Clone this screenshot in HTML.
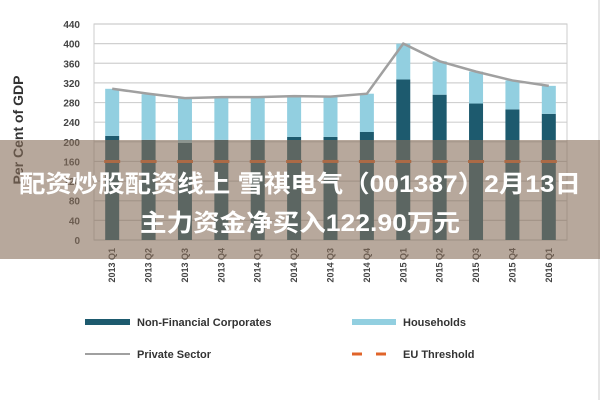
<!DOCTYPE html>
<html><head><meta charset="utf-8"><style>
body{margin:0;background:#fff;}
svg{display:block;font-family:"Liberation Sans","Noto Sans CJK SC",sans-serif;}
</style></head><body>
<svg width="600" height="400" viewBox="0 0 600 400">
<g id="grid"></g>
<g id="bars"></g>
<g id="line"></g>
<g id="thr"></g>
<g id="xl"></g>
<text transform="translate(23,130) rotate(-90)" text-anchor="middle" font-size="14" font-weight="bold" fill="#333">Per Cent of GDP</text>
<line x1="599" y1="0" x2="599" y2="400" stroke="#ccc"/>
<g font-size="11" font-weight="bold" fill="#333">
 <g><rect x="85" y="319" width="45" height="6" fill="#1d5a6e"/><text x="137" y="326">Non-Financial Corporates</text></g>
 <g><rect x="352" y="319" width="44" height="6" fill="#92cfe0"/><text x="403" y="326">Households</text></g>
 <g><line x1="85" y1="354" x2="130" y2="354" stroke="#a0a0a0" stroke-width="2"/><text x="137" y="358">Private Sector</text></g>
 <g><line x1="352" y1="354" x2="396" y2="354" stroke="#e0642a" stroke-width="3" stroke-dasharray="10,14"/><text x="403" y="358">EU Threshold</text></g>
</g>
<rect x="0" y="140" width="600" height="119" fill="rgba(135,110,90,0.6)"/>
<text x="300" y="192" text-anchor="middle" font-size="24" font-weight="bold" fill="#fff" textLength="562" lengthAdjust="spacingAndGlyphs">配资炒股配资线上 雪祺电气（001387）2月13日</text>
<text x="300" y="231" text-anchor="middle" font-size="24" font-weight="bold" fill="#fff" textLength="320" lengthAdjust="spacingAndGlyphs">主力资金净买入122.90万元</text>
</svg>
<script>
const categories=["2013 Q1","2013 Q2","2013 Q3","2013 Q4","2014 Q1","2014 Q2","2014 Q3","2014 Q4","2015 Q1","2015 Q2","2015 Q3","2015 Q4","2016 Q1"];
const nfc=[212,204,198,204,204,210,210,220,327,296,278,266,257];
const households=[96,93,91,88,88,84,82,78,73,68,65,59,57];
const privateSector=[308,298,289,291,291,293,292,298,400,364,343,325,314];
const euThreshold=160;
const yTicks=[0,40,80,120,160,200,240,280,320,360,400,440];
const NS="http://www.w3.org/2000/svg";
const L=94,R=567,T=24,B=240,yMax=440;
const y=v=>B-(v/yMax)*(B-T);
const step=(R-L)/categories.length;
const x=i=>L+step*(i+0.5);
function mk(t,a,p){const e=document.createElementNS(NS,t);for(const k in a)e.setAttribute(k,a[k]);p.appendChild(e);return e;}
const g=document.getElementById('grid');
yTicks.forEach(v=>{
 const l=mk('line',{x1:L,x2:R,y1:y(v),y2:y(v),stroke:'#d0d0d0','stroke-width':1.2},g);
 
 
 const t=mk('text',{x:L-14,y:y(v)+4,'text-anchor':'end','font-size':10,'font-weight':'bold',fill:'#444'},g);
 
 
 t.textContent=v;
});
mk('rect',{x:L,y:T,width:R-L,height:B-T,fill:'none',stroke:'#ccc'},g);
const bg=document.getElementById('bars'),lg=document.getElementById('line'),tg=document.getElementById('thr'),xg=document.getElementById('xl');
const bw=14;
categories.forEach((c,i)=>{
 const a=mk('rect',{x:x(i)-bw/2,y:y(nfc[i]),width:bw,height:B-y(nfc[i]),fill:'#1d5a6e'},bg);
 
 
 const top=nfc[i]+households[i];
 const b=mk('rect',{x:x(i)-bw/2,y:y(top),width:bw,height:y(nfc[i])-y(top),fill:'#92cfe0'},bg);
 
 
 const d=mk('line',{x1:x(i)-8,x2:x(i)+8,y1:y(euThreshold),y2:y(euThreshold),stroke:'#e0642a','stroke-width':3},tg);
 
 
 const t=mk('text',{transform:`translate(${x(i)+3},${B+8}) rotate(-90)`,'text-anchor':'end','font-size':9,'font-weight':'bold',fill:'#444'},xg);
 
 
 t.textContent=c;
});
const p=mk('polyline',{points:privateSector.map((v,i)=>x(i)+','+y(v)).join(' '),fill:'none',stroke:'#a0a0a0','stroke-width':2.5},lg);


</script>
</body></html>
